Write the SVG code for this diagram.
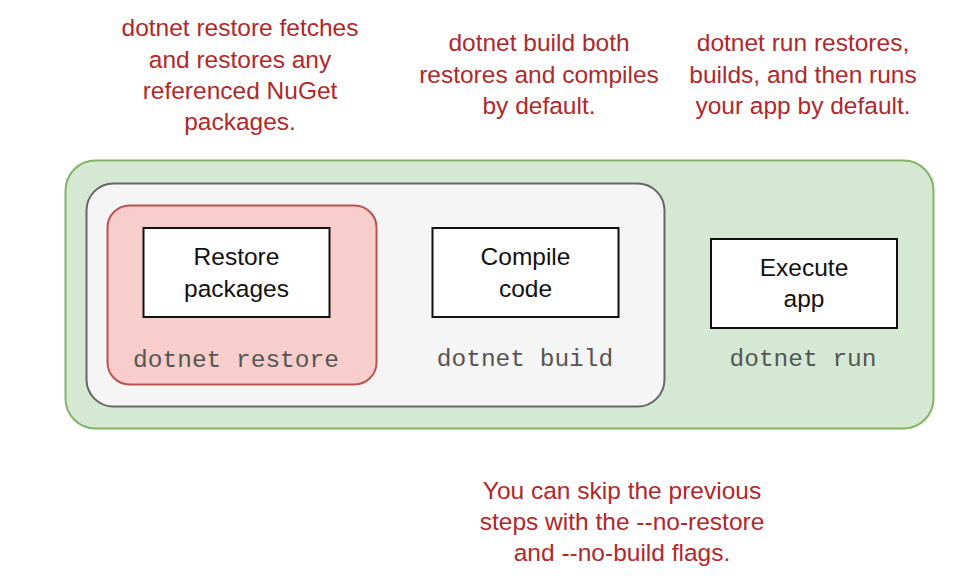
<svg xmlns="http://www.w3.org/2000/svg" width="956" height="587" viewBox="0 0 956 587">
<style>
.note{font-family:"Liberation Sans",Arial,sans-serif;font-size:24.5px;fill:#b0282a;text-anchor:middle}
.lbl{font-family:"Liberation Sans",Arial,sans-serif;font-size:24.5px;fill:#111;text-anchor:middle}
.mono{font-family:"Liberation Mono","Courier New",monospace;font-size:24.5px;fill:#555;text-anchor:middle}
.box{fill:#ffffff;stroke:#111;stroke-width:2}
</style>
<rect width="956" height="587" fill="#ffffff"/>
<g id="run-group">
<rect x="65.5" y="160.5" width="868" height="268" rx="30" fill="#d5e8d4" stroke="#82b366" stroke-width="2"/>
<text class="mono" x="803" y="366">dotnet run</text>
</g>
<g id="build-group">
<rect x="86.5" y="183.5" width="578" height="223" rx="27" fill="#f5f5f5" stroke="#666666" stroke-width="2"/>
<text class="mono" x="525" y="366">dotnet build</text>
</g>
<g id="restore-group">
<rect x="107.5" y="205.5" width="269" height="179" rx="22" fill="#f8cecc" stroke="#b85450" stroke-width="2"/>
<text class="mono" x="236" y="367">dotnet restore</text>
</g>
<g id="restore-packages">
<rect class="box" x="143.5" y="228" width="186" height="89"/>
<text class="lbl" x="236.5" y="265">Restore</text>
<text class="lbl" x="236.5" y="297">packages</text>
</g>
<g id="compile-code">
<rect class="box" x="432.5" y="228" width="186" height="89"/>
<text class="lbl" x="525.5" y="265">Compile</text>
<text class="lbl" x="525.5" y="297">code</text>
</g>
<g id="execute-app">
<rect class="box" x="711" y="239" width="186" height="89"/>
<text class="lbl" x="804" y="276">Execute</text>
<text class="lbl" x="804" y="307">app</text>
</g>
<g id="connectors"></g>
<g id="note-restore">
<text class="note" x="240" y="36">dotnet restore fetches</text>
<text class="note" x="240" y="68">and restores any</text>
<text class="note" x="240" y="99">referenced NuGet</text>
<text class="note" x="240" y="130">packages.</text>
</g>
<g id="note-build">
<text class="note" x="539" y="51">dotnet build both</text>
<text class="note" x="539" y="83">restores and compiles</text>
<text class="note" x="539" y="114">by default.</text>
</g>
<g id="note-run">
<text class="note" x="803" y="51">dotnet run restores,</text>
<text class="note" x="803" y="83">builds, and then runs</text>
<text class="note" x="803" y="114">your app by default.</text>
</g>
<g id="note-skip">
<text class="note" x="622" y="499">You can skip the previous</text>
<text class="note" x="622" y="530">steps with the --no-restore</text>
<text class="note" x="622" y="561">and --no-build flags.</text>
</g>
</svg>
